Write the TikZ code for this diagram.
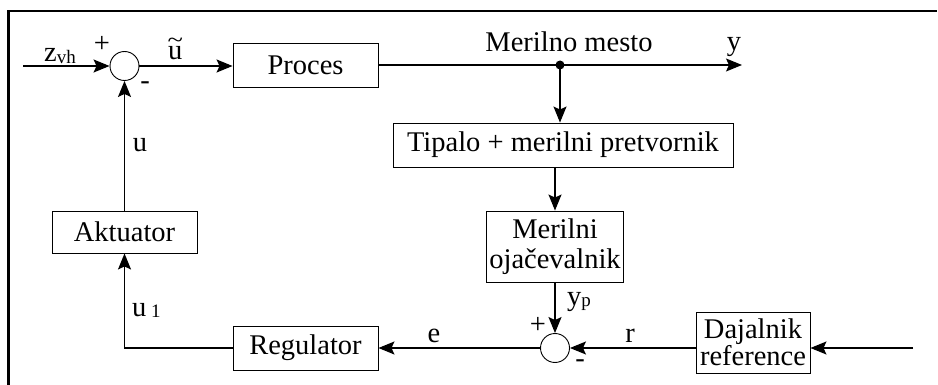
\documentclass[tikz,border=0pt]{standalone}
\usepackage{fontspec}
\usepackage{graphicx}
\setmainfont{Liberation Serif}
\usetikzlibrary{arrows.meta}
% small index set almost on the baseline
\newcommand{\lowidx}[1]{{\fontsize{19}{19}\selectfont\raisebox{-1.5pt}{#1}}}
% u with a wide tilde above it
\newcommand{\wideu}{\makebox[0pt][l]{\hspace{-0.5pt}\raisebox{12pt}{\scalebox{1}[0.8]{\textasciitilde}}}u}
\begin{document}
\begin{tikzpicture}[x=1pt,y=-1pt,
  font=\fontsize{28.5}{30}\selectfont,
  block/.style={draw,line width=0.9pt,inner sep=0pt,align=center},
  sumnode/.style={draw,circle,minimum size=29pt,inner sep=0pt,line width=0.9pt},
  conn/.style={line width=1.2pt,-{Stealth[length=16pt,width=13pt,inset=3pt]}},
  lbl/.style={inner sep=0pt},
  frame/.style={line width=2.5pt}]
\useasboundingbox (0,0) rectangle (938,385);

% outer frame (top and left edges)
\coordinate (fbl) at (8.3,385);
\coordinate (ftl) at (8.3,11);
\coordinate (ftr) at (937,11);
\draw[frame] (fbl) -- (ftl) -- (ftr);

% blocks
\node[block,minimum width=145pt,minimum height=44pt] (proc) at (305.5,65) {Proces};
\node[block,minimum width=340pt,minimum height=44pt] (tip) at (563,145) {Tipalo + merilni pretvornik};
\node[block,minimum width=137pt,minimum height=71pt,font=\fontsize{28.5}{30}\selectfont] (mer) at (555,246.5) {Merilni\\oja\v{c}evalnik};
\node[block,minimum width=114pt,minimum height=61pt,font=\fontsize{28.5}{27.5}\selectfont] (daj) at (753,342.5) {Dajalnik\\reference};
\node[block,minimum width=145pt,minimum height=44pt] (reg) at (305.5,348) {Regulator};
\node[block,minimum width=145pt,minimum height=42pt] (akt) at (124.5,232) {Aktuator};

% summing junctions
\node[sumnode] (s1) at (124.5,66) {};
\node[sumnode] (s2) at (555,348) {};

% free ends and branch point
\coordinate (zin) at (23,66);
\coordinate (dot) at (560,65);
\coordinate (yend) at (742,65);
\coordinate (rin) at (913,348);

% connectors
\draw[conn] (zin) -- (s1.west);
\draw[conn] (s1.east) -- (proc.west |- s1);
\draw[conn] (proc.east) -- (yend);
\fill (dot) circle (4.5pt);
\draw[conn] (dot) -- (dot |- tip.north);
\draw[conn] (mer.north |- tip.south) -- (mer.north);
\draw[conn] (mer.south) -- (s2.north);
\draw[conn] (rin) -- (daj.east |- rin);
\draw[conn] (daj.west |- s2) -- (s2.east);
\draw[conn] (s2.west) -- (reg.east);
\draw[conn] (reg.west) -| (akt.south);
\draw[conn] (akt.north) -- (s1.south);

% signal labels
\node[lbl,anchor=base west] (lz) at (44,62) {z\lowidx{vh}};
\node[lbl] (lp1) at (102,44) {+};
\node[lbl] (lm1) at (145,86) {-};
\node[lbl,anchor=base west] (lut) at (168,60) {\wideu};
\node[lbl] (lmm) at (569,42) {Merilno mesto};
\node[lbl] (ly) at (734,47) {y};
\node[lbl,anchor=base] (lu) at (140,152) {u};
\node[lbl,anchor=base west] (lu1) at (132,316) {u\,\lowidx{1}};
\node[lbl,anchor=base west] (lyp) at (567,305) {y\lowidx{p}};
\node[lbl] (lp2) at (538,325) {+};
\node[lbl] (lm2) at (580,364) {-};
\node[lbl] (lr) at (630,336) {r};
\node[lbl] (le) at (434,336) {e};
\end{tikzpicture}
\end{document}
